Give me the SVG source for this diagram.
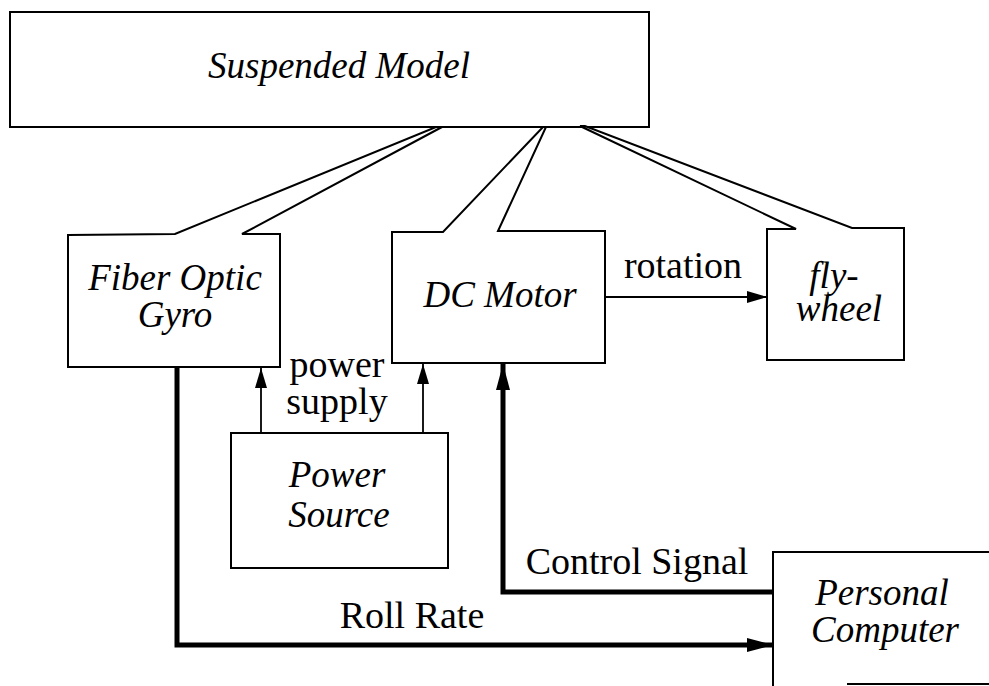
<svg xmlns="http://www.w3.org/2000/svg" width="989" height="686" viewBox="0 0 989 686">
<style>
.box{fill:#fff;stroke:#000;stroke-width:2;stroke-linejoin:miter}
.it{font-family:"Liberation Serif","Times New Roman",serif;font-style:italic;font-size:37px;fill:#000;text-anchor:middle}
.lb{font-family:"Liberation Serif","Times New Roman",serif;font-size:38px;fill:#000;text-anchor:middle}
.thin{fill:none;stroke:#000;stroke-width:1.8}
.thick{fill:none;stroke:#000;stroke-width:5}
</style>
<defs>
<marker id="ah" viewBox="0 0 20 12" refX="20" refY="6" markerWidth="20" markerHeight="12" markerUnits="userSpaceOnUse" orient="auto"><path d="M0,0 L20,6 L0,12 Z" fill="#000"/></marker>
<marker id="ahb" viewBox="0 0 26 14" refX="26" refY="7" markerWidth="26" markerHeight="14" markerUnits="userSpaceOnUse" orient="auto"><path d="M0,0 L26,7 L0,14 Z" fill="#000"/></marker>
</defs>
<rect width="989" height="686" fill="#fff"/>
<g id="suspended-model">
<rect class="box" x="10" y="12" width="639" height="115"/>
<text class="it" x="339" y="78">Suspended Model</text>
</g>
<g id="fiber-optic-gyro">
<polygon class="box" points="68,235 175,234 436,127 442,127 242,234 280,234 280,367 68,367"/>
<text class="it" x="175" y="290">Fiber Optic</text>
<text class="it" x="175" y="327">Gyro</text>
</g>
<g id="dc-motor">
<polygon class="box" points="392,232 443,232 543,127 546,127 498,231 605,231 605,363 392,363"/>
<text class="it" x="500" y="307">DC Motor</text>
</g>
<g id="flywheel">
<polygon class="box" points="767,229 796,229 580,126 585,126 852,228 904,228 904,360 767,360"/>
<text class="it" x="834" y="288">fly-</text>
<text class="it" x="839" y="321">wheel</text>
</g>
<g id="power-source">
<rect class="box" x="231" y="433" width="217" height="135"/>
<text class="it" x="337" y="487">Power</text>
<text class="it" x="339" y="527">Source</text>
</g>
<g id="personal-computer">
<path class="box" d="M773,686 V552 H992" fill="none"/>
<line x1="847" y1="684" x2="989" y2="684" stroke="#000" stroke-width="2"/>
<text class="it" x="882" y="605">Personal</text>
<text class="it" x="885" y="642">Computer</text>
</g>
<g id="connectors">
<path class="thin" d="M605,297 H767" marker-end="url(#ah)"/>
<path class="thin" d="M261,433 V368" marker-end="url(#ah)"/>
<path class="thin" d="M423,433 V364" marker-end="url(#ah)"/>
<path class="thick" d="M773,592 H503 V364" marker-end="url(#ahb)"/>
<path class="thick" d="M177,367 V645 H773" marker-end="url(#ahb)"/>
<text class="lb" x="683" y="278">rotation</text>
<text class="lb" x="337" y="377">power</text>
<text class="lb" x="337" y="414">supply</text>
<text class="lb" x="637" y="574">Control Signal</text>
<text class="lb" x="412" y="628">Roll Rate</text>
</g>
</svg>
